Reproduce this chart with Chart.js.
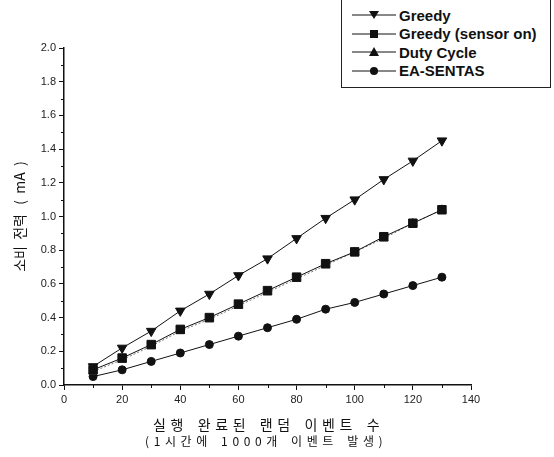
<!DOCTYPE html>
<html>
<head>
<meta charset="utf-8">
<script src="https://cdn.jsdelivr.net/npm/chart.js@4"></script>
<style>
  html, body { margin: 0; padding: 0; background: #fff; }
  #wrap { position: relative; width: 554px; height: 457px; overflow: hidden; }
  #legend {
    position: absolute; left: 341px; top: -2px; width: 208px; height: 88px;
    border: 1.5px solid #222; background: #fff;
    font-family: "Liberation Sans", Arial, sans-serif; font-size: 15px; font-weight: bold; color: #111;
  }
  .row { position: absolute; left: 10px; height: 18px; display: flex; align-items: center; white-space: nowrap; }
  .row svg { margin-right: 3px; }
  .xt { position: absolute; white-space: nowrap; font-family: "Noto Sans CJK KR", sans-serif; color: #111; line-height: 1; }
  #xt1 { left: 153px; top: 417px; font-size: 14px; letter-spacing: 4.6px; word-spacing: 2px; }
  #xt2 { left: 145px; top: 435px; font-size: 12px; letter-spacing: 4.6px; word-spacing: 2px; }
</style>
</head>
<body>
<div id="wrap">
  <canvas id="c" width="554" height="457"></canvas>
  <div id="legend"></div>
  <div class="xt" id="xt1">실행 완료된 랜덤 이벤트 수</div>
  <div class="xt" id="xt2">(1시간에 1000개 이벤트 발생)</div>
</div>
<script>
// x: 실행 완료된 랜덤 이벤트 수
const events = [10, 20, 30, 40, 50, 60, 70, 80, 90, 100, 110, 120, 130];

// 소비 전력 (mA)
const greedy   = [0.11, 0.22, 0.32, 0.44, 0.54, 0.65, 0.75, 0.87, 0.99, 1.10, 1.22, 1.33, 1.45];
const sensorOn = [0.09, 0.16, 0.24, 0.33, 0.40, 0.48, 0.56, 0.64, 0.72, 0.79, 0.88, 0.96, 1.04];
const duty     = [0.08, 0.15, 0.23, 0.32, 0.39, 0.47, 0.55, 0.63, 0.71, 0.79, 0.87, 0.96, 1.04];
const eaSentas = [0.05, 0.09, 0.14, 0.19, 0.24, 0.29, 0.34, 0.39, 0.45, 0.49, 0.54, 0.59, 0.64];

const seriesNames = ['Greedy', 'Greedy (sensor on)', 'Duty Cycle', 'EA-SENTAS'];

const pts = arr => arr.map((v, i) => ({ x: events[i], y: v }));

// minor ticks (half step) drawn through the scales
const minorTicks = {
  id: 'minorTicks',
  afterDraw(chart) {
    const { ctx, scales: { x, y } } = chart;
    ctx.save();
    ctx.strokeStyle = '#111';
    ctx.lineWidth = 1;
    ctx.beginPath();
    for (let v = 10; v < 140; v += 20) {
      const px = Math.round(x.getPixelForValue(v)) + 0.5;
      ctx.moveTo(px, x.top); ctx.lineTo(px, x.top + 3);
    }
    for (let v = 0.1; v < 2; v += 0.2) {
      const py = Math.round(y.getPixelForValue(v)) + 0.5;
      ctx.moveTo(y.right, py); ctx.lineTo(y.right - 3, py);
    }
    ctx.stroke();
    ctx.restore();
  }
};

const common = { borderColor: '#111', backgroundColor: '#111', borderWidth: 1, fill: false, tension: 0 };

const chart = new Chart(document.getElementById('c'), {
  type: 'line',
  data: {
    datasets: [
      { ...common, label: seriesNames[0], data: pts(greedy), pointStyle: 'triangle', pointRotation: 180, pointRadius: 5.5 },
      { ...common, label: seriesNames[1], data: pts(sensorOn), pointStyle: 'rect', pointRadius: 6 },
      { ...common, label: seriesNames[2], data: pts(duty), pointStyle: 'triangle', pointRadius: 5, borderColor: '#777', borderDash: [2, 2] },
      { ...common, label: seriesNames[3], data: pts(eaSentas), pointStyle: 'circle', pointRadius: 4 }
    ]
  },
  options: {
    responsive: false,
    animation: false,
    layout: { padding: { left: 0, right: 83, top: 48, bottom: 0 } },
    plugins: { legend: { display: false }, tooltip: { enabled: false } },
    scales: {
      x: {
        type: 'linear', min: 0, max: 140,
        border: { color: '#111', width: 1.5 },
        grid: { drawOnChartArea: false, tickLength: 5, color: '#111' },
        ticks: { stepSize: 20, color: '#222', padding: 3, font: { family: 'Liberation Sans', size: 11 } },
        afterFit(s) { s.height = 72; }
      },
      y: {
        min: 0, max: 2,
        border: { color: '#111', width: 1.5 },
        grid: { drawOnChartArea: false, tickLength: 5, color: '#111' },
        ticks: { stepSize: 0.2, color: '#222', padding: 3, font: { family: 'Liberation Sans', size: 11 },
                 callback: v => v.toFixed(1) },
        title: {
          display: true, text: '소비  전력   (  mA  )', color: '#111',
          padding: { top: 11, bottom: 0 },
          font: { family: 'Noto Sans CJK KR', size: 14 }
        },
        afterFit(s) { s.width = 64; }
      }
    }
  },
  plugins: [minorTicks]
});

// html legend built from the chart datasets
const markers = {
  triangleDown: '<polygon points="18,10 23,2 13,2" />',
  rect: '<rect x="14" y="2" width="8" height="8" />',
  triangle: '<polygon points="18,1 23,10 13,10" />',
  circle: '<circle cx="18" cy="6" r="4" />'
};
const legend = document.getElementById('legend');
chart.data.datasets.forEach((ds, i) => {
  const key = ds.pointStyle === 'triangle' && ds.pointRotation === 180 ? 'triangleDown' : ds.pointStyle;
  const row = document.createElement('div');
  row.className = 'row';
  row.style.top = (7 + i * 18.5) + 'px';
  row.innerHTML = '<svg width="44" height="12"><line x1="0" y1="6" x2="44" y2="6" stroke="#111" stroke-width="1"/>' +
    '<g fill="#111" transform="translate(4,0)">' + markers[key] + '</g></svg>' + ds.label;
  legend.appendChild(row);
});
</script>
</body>
</html>
